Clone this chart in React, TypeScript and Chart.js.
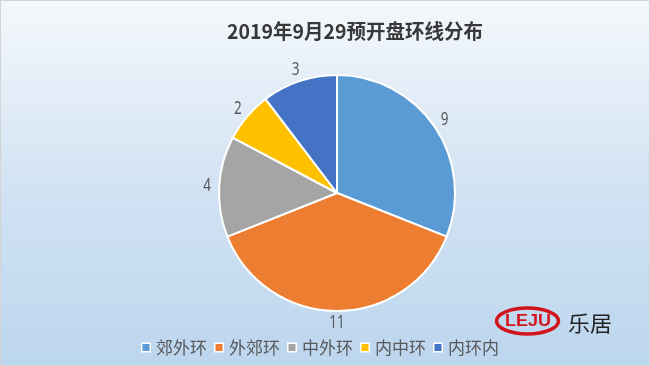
import React, { useEffect, useRef } from "react";
import { Chart, registerables } from "chart.js";

Chart.register(...registerables);

const title = "2019年9月29预开盘环线分布";
const categories = ["郊外环", "外郊环", "中外环", "内中环", "内环内"];
const values = [9, 11, 4, 2, 3];
const colors = ["#5B9BD5", "#ED7D31", "#A5A5A5", "#FFC000", "#4472C4"];
const logoMark = "LEJU";
const logoName = "乐居";

const CJK = '"Noto Sans CJK SC", "Noto Sans", sans-serif';

function drawText(
  ctx: CanvasRenderingContext2D,
  text: string,
  x: number,
  y: number,
  font: string,
  color: string,
  sx: number,
  align: CanvasTextAlign = "center"
) {
  ctx.save();
  ctx.font = font;
  ctx.fillStyle = color;
  ctx.textBaseline = "middle";
  ctx.textAlign = align;
  ctx.translate(x, y);
  ctx.scale(sx, 1);
  ctx.fillText(text, 0, 0);
  ctx.restore();
}

function fitScale(ctx: CanvasRenderingContext2D, text: string, font: string, target: number) {
  ctx.save();
  ctx.font = font;
  const w = ctx.measureText(text).width;
  ctx.restore();
  return w > 0 ? target / w : 1;
}

const backgroundPlugin = {
  id: "bg",
  beforeDraw(chart: any) {
    const { ctx, width, height } = chart;
    ctx.save();
    const g = ctx.createLinearGradient(0, 0, 0, height);
    g.addColorStop(0, "#f5f8fc");
    g.addColorStop(0.5, "#d2e3f3");
    g.addColorStop(1, "#bcd6ee");
    ctx.fillStyle = g;
    ctx.fillRect(0, 0, width, height);
    ctx.strokeStyle = "#d4d4d4";
    ctx.lineWidth = 1;
    ctx.strokeRect(0.5, 0.5, width - 1, height - 1);
    ctx.restore();
  },
};

const decorPlugin = {
  id: "decor",
  afterDatasetsDraw(chart: any) {
    const ctx: CanvasRenderingContext2D = chart.ctx;
    // title
    const tFont = `bold 20px ${CJK}`;
    drawText(ctx, title, 355, 31, tFont, "#383838", fitScale(ctx, title, tFont, 256));

    // value labels
    const meta = chart.getDatasetMeta(0);
    meta.data.forEach((arc: any, i: number) => {
      const mid = (arc.startAngle + arc.endAngle) / 2;
      const r = arc.outerRadius + 12;
      const x = arc.x + Math.cos(mid) * r;
      const y = arc.y + Math.sin(mid) * r;
      drawText(ctx, String(values[i]), x, y, `18px "Noto Sans", sans-serif`, "#595959", 0.75);
    });

    // legend
    const lFont = `17px ${CJK}`;
    ctx.save();
    ctx.font = lFont;
    const widths = categories.map((c) => ctx.measureText(c).width);
    ctx.restore();
    const box = 10;
    const gap = 5;
    const itemGap = 7;
    const total = widths.reduce((s, w) => s + box + gap + w, 0) + itemGap * (categories.length - 1);
    let x = 320 - total / 2;
    const ly = 347.5;
    categories.forEach((c, i) => {
      ctx.save();
      ctx.fillStyle = "#ffffff";
      ctx.fillRect(x, ly - box / 2, box, box);
      ctx.fillStyle = colors[i];
      ctx.fillRect(x + 1.5, ly - box / 2 + 1.5, box - 3, box - 3);
      ctx.restore();
      drawText(ctx, c, x + box + gap, ly, lFont, "#595959", 1, "left");
      x += box + gap + widths[i] + itemGap;
    });

    // logo
    ctx.save();
    ctx.strokeStyle = "#d3141c";
    ctx.lineWidth = 3.5;
    ctx.beginPath();
    ctx.ellipse(527.5, 321, 31, 13, 0, 0, Math.PI * 2);
    ctx.stroke();
    ctx.restore();
    const mFont = `bold 17px "Liberation Sans", sans-serif`;
    drawText(ctx, logoMark, 528, 321.5, mFont, "#d3141c", fitScale(ctx, logoMark, mFont, 46));
    const nFont = `21px ${CJK}`;
    drawText(ctx, logoName, 590, 323.5, nFont, "#222222", fitScale(ctx, logoName, nFont, 44));
  },
};

export default function App() {
  const ref = useRef<HTMLCanvasElement | null>(null);
  useEffect(() => {
    if (!ref.current) return;
    const chart = new Chart(ref.current, {
      type: "pie",
      data: {
        labels: categories,
        datasets: [
          {
            data: values,
            backgroundColor: colors,
            borderColor: "#ffffff",
            borderWidth: 2,
          },
        ],
      },
      options: {
        responsive: false,
        animation: false,
        devicePixelRatio: 1,
        radius: 118,
        layout: { padding: { left: 34, right: 10, top: 60, bottom: 40 } },
        plugins: {
          legend: { display: false },
          title: { display: false },
          tooltip: { enabled: false },
        },
      } as any,
      plugins: [backgroundPlugin, decorPlugin],
    });
    return () => chart.destroy();
  }, []);
  return (
    <div style={{ position: "fixed", left: 0, top: 0, width: 650, height: 366 }}>
      <canvas ref={ref} width={650} height={366} />
    </div>
  );
}
